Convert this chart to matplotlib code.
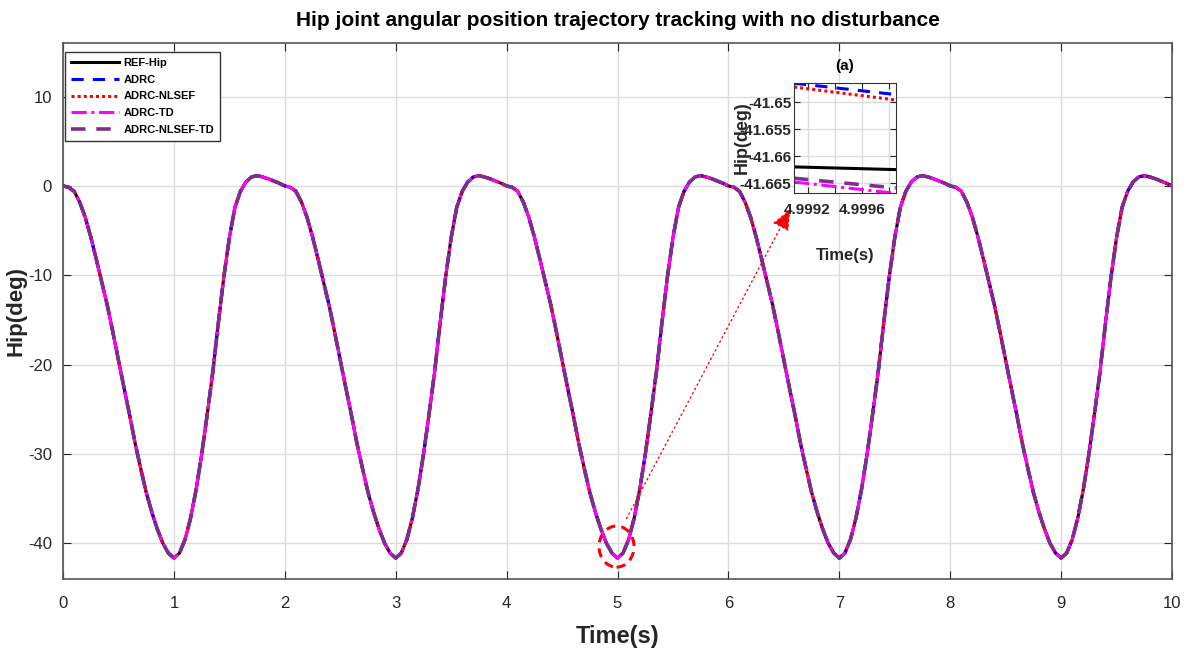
import numpy as np
import matplotlib.pyplot as plt
from matplotlib.patches import Ellipse

plt.rcParams['font.family'] = ['Liberation Sans', 'DejaVu Sans']
plt.rcParams['axes.unicode_minus'] = False

# ---------- DATA ----------
# one gait cycle of the hip reference (deg), sampled every 0.05 s, repeated over 10 s
t_cycle = np.arange(0, 2.0, 0.05)
hip_cycle = [0.0, -0.15, -0.6, -1.8, -3.5, -5.7, -8.2, -10.8, -13.4, -16.4,
             -19.5, -22.6, -25.6, -28.8, -31.6, -34.3, -36.5, -38.4, -40.0, -41.1,
             -41.66, -41.1, -39.6, -37.2, -34.0, -30.1, -25.6, -20.9, -15.4, -10.2,
             -5.8, -2.4, -0.6, 0.45, 1.0, 1.15, 1.0, 0.8, 0.55, 0.3]
n_cycles = 5

# zoomed window around the trough at t = 5 s
t_zoom = [4.9991, 4.99985]
zoom_ref = [-41.6620, -41.6625]
zoom_adrc = [-41.6465, -41.6486]
zoom_nlsef = [-41.6472, -41.6496]
zoom_td = [-41.6648, -41.6669]
zoom_nlsef_td = [-41.6641, -41.6659]

t = np.concatenate([t_cycle + 2.0 * k for k in range(n_cycles)] + [[10.0]])
hip = np.concatenate([hip_cycle] * n_cycles + [[0.0]])

series = [
    ("REF-Hip", hip, zoom_ref, dict(color="black", lw=2.2, ls="-")),
    ("ADRC", hip, zoom_adrc, dict(color="#0000ff", lw=2.2, ls=(0, (4, 3)))),
    ("ADRC-NLSEF", hip, zoom_nlsef, dict(color="#ff0000", lw=2.2, ls=(0, (1, 1)))),
    ("ADRC-TD", hip, zoom_td, dict(color="#ff00ff", lw=2.2, ls=(0, (5, 1.5, 1, 1.5)))),
    ("ADRC-NLSEF-TD", hip, zoom_nlsef_td, dict(color="#7e2f8e", lw=2.6, ls=(0, (4, 3)))),
]

axis_gray = "#262626"

fig = plt.figure(figsize=(11.89, 6.51), dpi=100)
ax = fig.add_axes([0.053, 0.1106, 0.9327, 0.8234])

for name, y, _, st in series:
    ax.plot(t, y, label=name, **st)

ax.set_xlim(0, 10)
ax.set_ylim(-44, 16)
ax.set_xticks(np.arange(0, 11, 1))
ax.set_yticks([-40, -30, -20, -10, 0, 10])
ax.grid(True, color="#dcdcdc", lw=1)
ax.set_axisbelow(True)
ax.tick_params(direction="in", top=True, right=True, length=6, labelsize=12,
               colors=axis_gray)
ax.tick_params(axis="x", pad=12)
ax.tick_params(axis="y", pad=8)
for sp in ax.spines.values():
    sp.set_color("#555555")
    sp.set_linewidth(1.2)

ax.set_title("Hip joint angular position trajectory tracking with no disturbance",
             fontsize=15, fontweight="bold", pad=12)
ax.set_xlabel("Time(s)", fontsize=17, fontweight="bold", labelpad=10, color=axis_gray)
ax.set_ylabel("Hip(deg)", fontsize=16, fontweight="bold", labelpad=1, color=axis_gray)

leg = ax.legend(loc="upper left", bbox_to_anchor=(0.002, 0.984), borderaxespad=0,
                prop=dict(size=8, weight="bold"), handlelength=4.3, handletextpad=0.4,
                labelspacing=0.62, borderpad=0.55, fancybox=False, framealpha=1,
                edgecolor="#333333")
leg.get_frame().set_linewidth(1)

# red dashed mark around the trough and the dotted pointer to the inset
ax.add_patch(Ellipse((4.991, -40.37), 0.316, 4.6, fill=False, ec="red", lw=2.2,
                     ls=(0, (3, 2))))
ax.annotate("", xy=(6.57, -2.3), xytext=(5.07, -37.5),
            arrowprops=dict(arrowstyle="-|>,head_length=1.3,head_width=0.55",
                            color="red", lw=1, ls=(0, (1, 2.5))))

# ---------- INSET ----------
axi = fig.add_axes([0.6678, 0.703, 0.0855, 0.170])
for name, _, yz, st in series:
    axi.plot(t_zoom, yz, **st)
axi.set_xlim(4.9991, 4.99985)
axi.set_ylim(-41.6669, -41.6464)
axi.set_xticks([4.9992, 4.9994, 4.9996, 4.9998])
axi.set_xticklabels(["4.9992", "", "4.9996", ""])
axi.set_yticks([-41.665, -41.66, -41.655, -41.65])
axi.set_yticklabels(["-41.665", "-41.66", "-41.655", "-41.65"])
axi.grid(True, color="#dcdcdc", lw=1)
axi.tick_params(direction="in", top=True, right=True, length=4, labelsize=11,
                colors=axis_gray, pad=2)
axi.tick_params(axis="x", pad=7)
for lab in axi.get_xticklabels() + axi.get_yticklabels():
    lab.set_fontweight("bold")
for sp in axi.spines.values():
    sp.set_color("#333333")
axi.set_title("(a)", fontsize=11, fontweight="bold", pad=9)
axi.set_xlabel("Time(s)", fontsize=12, fontweight="bold", labelpad=22, color=axis_gray)
axi.set_ylabel("Hip(deg)", fontsize=13, fontweight="bold", labelpad=-8, color=axis_gray)

fig.savefig("out.png", dpi=100)
